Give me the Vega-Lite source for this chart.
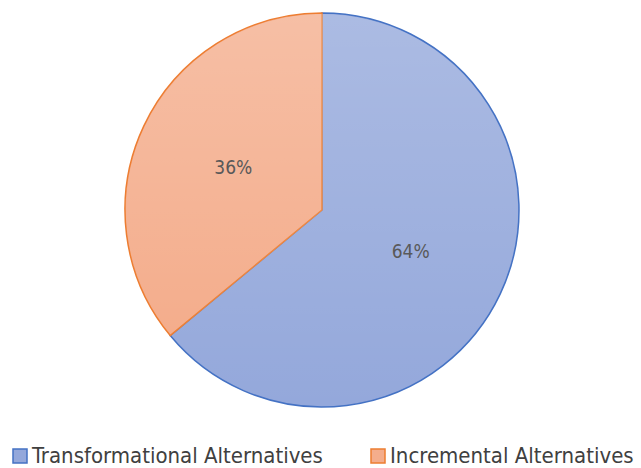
{
  "$schema": "https://vega.github.io/schema/vega-lite/v6.json",
  "width": 638,
  "height": 420,
  "padding": {"left": 3, "top": 0, "right": 0, "bottom": 48},
  "autosize": "none",
  "background": "white",
  "config": {"view": {"stroke": null}},
  "data": {
    "values": [
      {"category": "Transformational Alternatives", "value": 64, "label": "64%", "order": 1},
      {"category": "Incremental Alternatives", "value": 36, "label": "36%", "order": 2}
    ]
  },
  "layer": [
    {
      "mark": {"type": "arc", "radius": 197, "strokeWidth": 1.5},
      "encoding": {
        "theta": {"field": "value", "type": "quantitative", "stack": true},
        "order": {"field": "order", "type": "quantitative"},
        "fill": {
          "field": "category",
          "type": "nominal",
          "scale": {
            "domain": ["Transformational Alternatives", "Incremental Alternatives"],
            "range": ["#94a8db", "#f4ad8c"]
          },
          "legend": {
            "title": null,
            "orient": "none",
            "legendX": 6,
            "legendY": 445,
            "direction": "horizontal",
            "symbolType": "square",
            "symbolSize": 196,
            "symbolStrokeWidth": 1.5,
            "labelFont": "DejaVu Sans Condensed",
            "labelFontSize": 22,
            "labelColor": "#404040",
            "labelOffset": 1,
            "columnPadding": 44,
            "labelLimit": 400
          }
        },
        "stroke": {
          "field": "category",
          "type": "nominal",
          "scale": {
            "domain": ["Transformational Alternatives", "Incremental Alternatives"],
            "range": ["#4472c4", "#ed7d31"]
          },
          "legend": {
            "title": null,
            "orient": "none",
            "legendX": 6,
            "legendY": 445,
            "direction": "horizontal",
            "symbolType": "square",
            "symbolSize": 196,
            "symbolStrokeWidth": 1.5,
            "labelFont": "DejaVu Sans Condensed",
            "labelFontSize": 22,
            "labelColor": "#404040",
            "labelOffset": 1,
            "columnPadding": 44,
            "labelLimit": 400
          }
        }
      }
    },
    {
      "mark": {"type": "arc", "radius": 196, "strokeWidth": 0,
        "fill": {"gradient": "linear", "x1": 0, "y1": 0, "x2": 0, "y2": 1, "stops": [{"offset": 0, "color": "rgba(255,255,255,0.22)"}, {"offset": 1, "color": "rgba(255,255,255,0)"}]}},
      "encoding": {
        "theta": {"field": "value", "type": "quantitative", "stack": true},
        "order": {"field": "order", "type": "quantitative"},
        "detail": {"field": "category", "type": "nominal"}
      }
    },
    {
      "mark": {"type": "text", "radius": 98, "font": "DejaVu Sans Condensed", "fontSize": 19, "fill": "#595959"},
      "encoding": {
        "theta": {"field": "value", "type": "quantitative", "stack": true},
        "order": {"field": "order", "type": "quantitative"},
        "detail": {"field": "category", "type": "nominal"},
        "text": {"field": "label", "type": "nominal"}
      }
    }
  ]
}
